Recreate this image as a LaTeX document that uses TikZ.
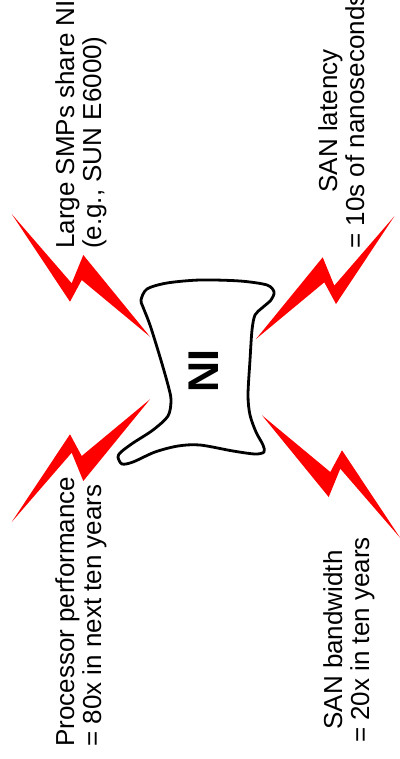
\documentclass[tikz,border=0pt]{standalone}
\usepackage{fontspec}
\setmainfont{Liberation Sans}

\definecolor{boltred}{RGB}{255,0,0}

\tikzset{
  sidenote/.style={rotate=90, inner sep=0pt, font=\fontsize{26bp}{27bp}\selectfont},
  % one lightning bolt, inner tip at the origin, pointing up-left
  bolt/.pic={
    \fill[boltred] (0,0) -- (-68.3,-56.7) -- (-80,-35) -- (-138.3,-122.7)
      -- (-78.3,-53.4) -- (-66.7,-81.7) -- cycle;
  }
}

\begin{document}
\begin{tikzpicture}[x=1bp, y=-1bp]
  \useasboundingbox (0,0) rectangle (399,759);

  % ---------------- the NI blob ----------------
  \draw[line width=2.8bp, line join=round]
    plot[smooth cycle, tension=0.5] coordinates {
      (141,300) (147,289) (167,283) (200,280) (240,281) (267,285) (274,292)
      (271,300) (262,308) (255,315) (252,330) (250,360) (248,395) (250,415)
      (256,432) (263,445) (264,452) (255,454) (233,451) (200,445) (178,446)
      (155,452) (133,462) (122,464) (118,457) (121,452) (133,443) (153,430)
      (168,416) (171,400) (168,385) (160,357) (150,325) (143,307)};
  \node[rotate=90, inner sep=0pt, font=\fontsize{43bp}{43bp}\selectfont\bfseries]
    (ni) at (204,371) {NI};

  % ---------------- bolts ----------------
  \pic at (150,336.7) {bolt};
  \pic[yscale=-1] at (150,399.3) {bolt};
  \pic[xscale=-1] at (256,339) {bolt};
  \pic[xscale=-1, yscale=-1] at (262,415.3) {bolt};

  % ---------------- texts ----------------
  \node[sidenote, align=left, anchor=north west] (smp) at (55,249)
    {Large SMPs share NI\\(e.g., SUN E6000)};
  \node[sidenote, align=left, anchor=north west] (cpu) at (55,747)
    {Processor performance\\= 80x in next ten years};
  \node[sidenote, align=center, anchor=north] (lat) at (318,121)
    {SAN latency\\= 10s of nanoseconds};
  \node[sidenote, align=center, anchor=north] (bw) at (323,640)
    {SAN bandwidth\\= 20x in ten years};

\end{tikzpicture}
\end{document}
